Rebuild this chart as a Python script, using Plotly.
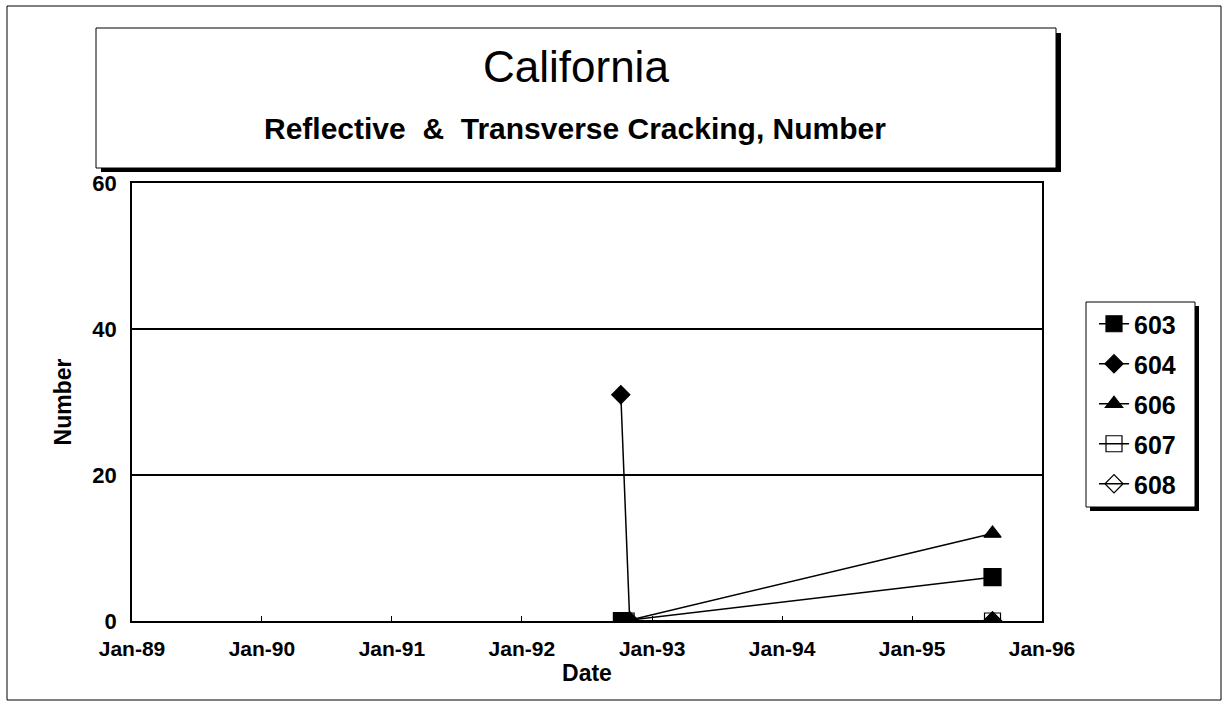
import plotly.graph_objects as go

# ---- data ----
series_names = ["603", "604", "606", "607", "608"]
dates_603 = ["1992-10-08", "1995-08-15"]
vals_603 = [0, 6]
dates_604 = ["1992-10-05", "1992-10-30", "1995-08-15"]
vals_604 = [31, 0, 0]
dates_606 = ["1992-10-20", "1995-08-15"]
vals_606 = [0, 12]
dates_607 = ["1992-10-20", "1995-08-15"]
vals_607 = [0, 0]
dates_608 = ["1992-10-30", "1995-08-15"]
vals_608 = [0, 0]

tick_dates = ["1989-01-01", "1990-01-01", "1991-01-01", "1992-01-01",
              "1993-01-01", "1994-01-01", "1995-01-01", "1996-01-01"]
tick_labels = ["Jan-89", "Jan-90", "Jan-91", "Jan-92", "Jan-93", "Jan-94", "Jan-95", "Jan-96"]
y_ticks = [0, 20, 40, 60]

W, H = 1227, 709
L, R, T, B = 132, 1042, 183, 621
FONT = "Liberation Sans, Arial, sans-serif"


def px(x):
    return (x - L) / (R - L)


def py(y):
    return (B - y) / (B - T)


fig = go.Figure()
specs = [
    (dates_603, vals_603, "square", 17),
    (dates_604, vals_604, "diamond", 14),
    (dates_606, vals_606, "triangle-up", 15),
    (dates_607, vals_607, "square-open", 16),
    (dates_608, vals_608, "diamond-open", 14),
]
for name, (d, v, sym, sz) in zip(series_names, specs):
    fig.add_trace(go.Scatter(
        x=d, y=v, name=name, mode="lines+markers",
        line=dict(color="black", width=1.5),
        marker=dict(symbol=sym, size=sz, color="black",
                    line=dict(color="black", width=1.2)),
        legendgroup=name,
    ))

shapes = []
# outer frame
shapes.append(dict(type="rect", xref="paper", yref="paper",
                   x0=px(7), x1=px(1221), y0=py(700), y1=py(6),
                   line=dict(color="black", width=1), layer="below"))
# title box shadow + box
shapes.append(dict(type="rect", xref="paper", yref="paper",
                   x0=px(101), x1=px(1061), y0=py(172), y1=py(33),
                   line=dict(width=0), fillcolor="black", layer="below"))
shapes.append(dict(type="rect", xref="paper", yref="paper",
                   x0=px(96), x1=px(1056), y0=py(168), y1=py(28),
                   line=dict(color="black", width=1), fillcolor="white", layer="below"))
# legend shadow + box
shapes.append(dict(type="rect", xref="paper", yref="paper",
                   x0=px(1090), x1=px(1199), y0=py(511), y1=py(306),
                   line=dict(width=0), fillcolor="black", layer="below"))
shapes.append(dict(type="rect", xref="paper", yref="paper",
                   x0=px(1086), x1=px(1195), y0=py(507), y1=py(302),
                   line=dict(color="black", width=1), fillcolor="white", layer="below"))

annotations = [
    dict(text="California", xref="paper", yref="paper", x=px(576), y=py(66),
         showarrow=False, font=dict(family=FONT, size=44, color="black"),
         xanchor="center", yanchor="middle"),
    dict(text="<b>Reflective  &  Transverse Cracking, Number</b>", xref="paper", yref="paper",
         x=px(575), y=py(129), showarrow=False,
         font=dict(family=FONT, size=30, color="black"),
         xanchor="center", yanchor="middle"),
]

fig.update_layout(
    width=W, height=H,
    margin=dict(l=L, r=W - R, t=T, b=H - B, pad=0),
    paper_bgcolor="white", plot_bgcolor="rgba(0,0,0,0)",
    font=dict(family=FONT, color="black"),
    showlegend=True,
    legend=dict(x=px(1094), y=py(301), xanchor="left", yanchor="top",
                bgcolor="rgba(0,0,0,0)", borderwidth=0,
                font=dict(family=FONT, size=25, color="black", weight="bold"),
                tracegroupgap=4.5, itemwidth=30),
    shapes=shapes, annotations=annotations,
    xaxis=dict(type="date", range=["1989-01-01", "1996-01-01"],
               tickvals=tick_dates, ticktext=tick_labels,
               ticks="inside", ticklen=5, tickcolor="black",
               showline=True, linecolor="black", linewidth=1.5, mirror=True,
               showgrid=False, zeroline=False, ticklabelstandoff=8,
               tickfont=dict(family=FONT, size=21, color="black", weight="bold"),
               title=dict(text="Date", standoff=6,
                          font=dict(family=FONT, size=23, color="black", weight="bold"))),
    yaxis=dict(range=[0, 60], tickvals=y_ticks,
               showline=True, linecolor="black", linewidth=1.5, mirror=True,
               showgrid=True, gridcolor="black", gridwidth=1.5, zeroline=False,
               ticks="", ticklabelstandoff=9,
               tickfont=dict(family=FONT, size=22, color="black", weight="bold"),
               title=dict(text="Number", standoff=14,
                          font=dict(family=FONT, size=23, color="black", weight="bold"))),
)

fig.write_html("out.html", config={"displayModeBar": False},
               post_script="document.body.style.margin='0';")
